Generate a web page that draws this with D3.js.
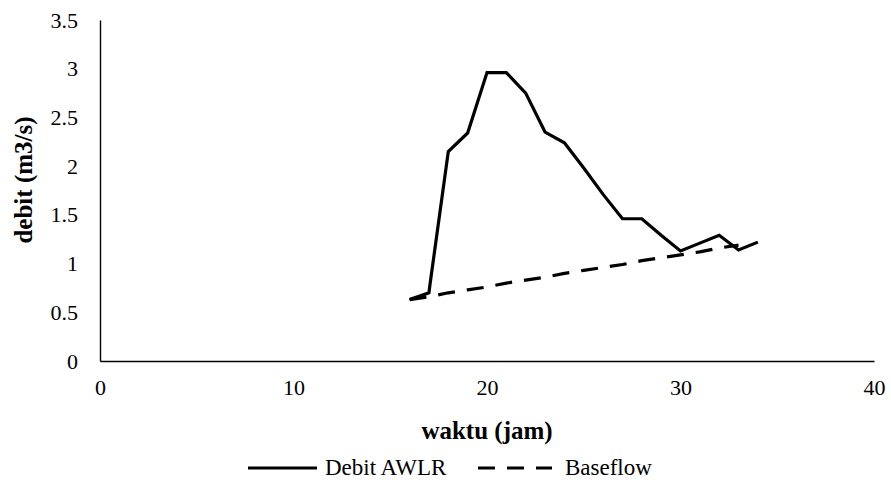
<!DOCTYPE html>
<html>
<head>
<meta charset="utf-8">
<script src="https://cdn.jsdelivr.net/npm/d3@7/dist/d3.min.js"></script>
<style>
  html, body { margin: 0; padding: 0; background: #fff; }
  svg { display: block; }
  text { font-family: "Liberation Serif", "Times New Roman", serif; fill: #000; }
</style>
</head>
<body>
<svg id="chart" width="891" height="483"></svg>
<script>
// Hydrograph: observed AWLR discharge and separated baseflow
const debitJam   = [16, 17, 17.05, 18, 19, 20, 21, 22, 23, 24, 25, 26, 27, 28, 29, 30, 31, 32, 33, 34];
const debitAWLR  = [0.63, 0.70, 0.78, 2.15, 2.34, 2.96, 2.96, 2.75, 2.35, 2.24, 1.98, 1.71, 1.46, 1.46, 1.29, 1.13, 1.21, 1.29, 1.14, 1.22];

const baseJam    = [16, 17, 18, 19, 20, 21, 22, 23, 24, 25, 26, 27, 28, 29, 30, 31, 32, 33];
const baseflow   = [0.63, 0.66, 0.70, 0.73, 0.76, 0.80, 0.83, 0.86, 0.90, 0.93, 0.96, 0.99, 1.03, 1.06, 1.09, 1.12, 1.16, 1.19];

const xTicks = [0, 10, 20, 30, 40];
const yTicks = [0, 0.5, 1, 1.5, 2, 2.5, 3, 3.5];

const serif = '"Liberation Serif", "Times New Roman", serif';
const svg = d3.select("#chart");

const x = d3.scaleLinear().domain([0, 40]).range([100, 874]);
const y = d3.scaleLinear().domain([0, 3.5]).range([361, 20]);

// Axes (no tick marks, labels only)
const xAxis = d3.axisBottom(x).tickValues(xTicks).tickSize(0).tickPadding(18).tickFormat(d3.format("d"));
const yAxis = d3.axisLeft(y).tickValues(yTicks).tickSize(0).tickPadding(22).tickFormat(d => String(d));

const gx = svg.append("g").attr("transform", `translate(0,${y(0)})`).call(xAxis);
const gy = svg.append("g").attr("transform", `translate(${x(0)},0)`).call(yAxis);

[gx, gy].forEach(g => {
  g.attr("font-family", serif).attr("font-size", 22);
  g.select(".domain").attr("stroke", "#000").attr("stroke-width", 1.4);
  g.selectAll("text").attr("fill", "#000");
});
gx.selectAll("text").attr("dy", "0.72em");

// Series
const line = d3.line().x(d => x(d[0])).y(d => y(d[1]));

svg.append("path")
  .datum(baseJam.map((t, i) => [t, baseflow[i]]))
  .attr("d", line)
  .attr("fill", "none")
  .attr("stroke", "#000")
  .attr("stroke-width", 3.2)
  .attr("stroke-dasharray", "17,12");

svg.append("path")
  .datum(debitJam.map((t, i) => [t, debitAWLR[i]]))
  .attr("d", line)
  .attr("fill", "none")
  .attr("stroke", "#000")
  .attr("stroke-width", 3.2)
  .attr("stroke-linejoin", "miter");

// Axis titles
svg.append("text")
  .attr("x", 487).attr("y", 439)
  .attr("text-anchor", "middle")
  .attr("font-family", serif)
  .attr("font-size", 25).attr("font-weight", "bold")
  .text("waktu (jam)");

svg.append("text")
  .attr("transform", "translate(32,180) rotate(-90)")
  .attr("text-anchor", "middle")
  .attr("font-family", serif)
  .attr("font-size", 25).attr("font-weight", "bold")
  .text("debit (m3/s)");

// Legend
const legY = 468;
svg.append("line").attr("x1", 248).attr("x2", 317).attr("y1", legY).attr("y2", legY)
  .attr("stroke", "#000").attr("stroke-width", 3.2);
svg.append("text").attr("x", 325).attr("y", legY + 7)
  .attr("font-family", serif).attr("font-size", 23).text("Debit AWLR");

svg.append("line").attr("x1", 478).attr("x2", 552).attr("y1", legY).attr("y2", legY)
  .attr("stroke", "#000").attr("stroke-width", 3.2).attr("stroke-dasharray", "17,12");
svg.append("text").attr("x", 565).attr("y", legY + 7)
  .attr("font-family", serif).attr("font-size", 23).text("Baseflow");
</script>
</body>
</html>
